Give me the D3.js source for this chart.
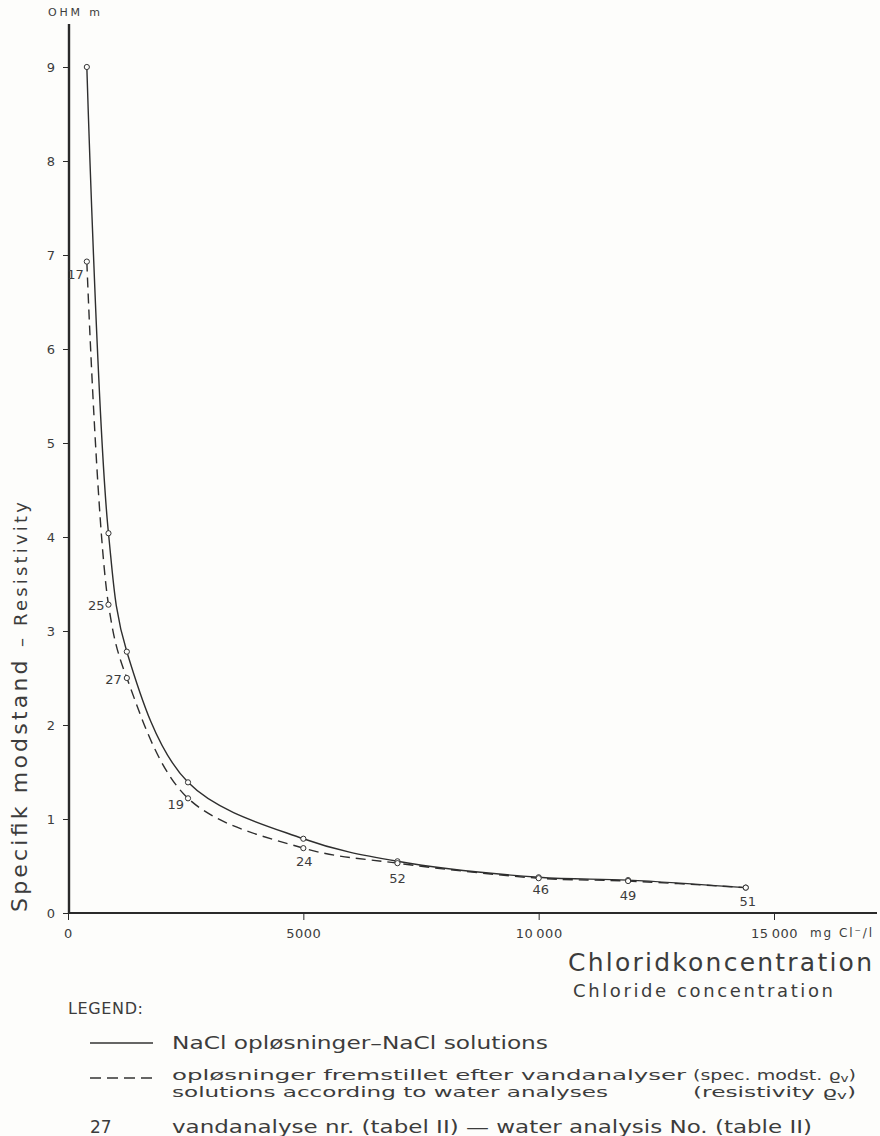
<!DOCTYPE html>
<html>
<head>
<meta charset="utf-8">
<script src="https://cdn.jsdelivr.net/npm/d3@7"></script>
<style>
  html, body { margin: 0; padding: 0; background: #fdfdfb; }
  svg { display: block; }
  text { font-family: "DejaVu Sans", sans-serif; fill: #3c3c3c; }
</style>
</head>
<body>
<svg id="chart" width="880" height="1136"></svg>
<script>
// Chloride concentration (mg Cl-/l) of the prepared solutions
const concentrations = [400, 860, 1250, 2550, 5000, 7000, 10000, 11900, 14400];
// Resistivity of pure NaCl solutions (ohm m)
const naclResistivity = [9.0, 4.04, 2.78, 1.39, 0.79, 0.55, 0.38, 0.35, 0.27];
// Resistivity of solutions made up after the water analyses (ohm m)
const waterResistivity = [6.93, 3.28, 2.50, 1.22, 0.69, 0.53, 0.37, 0.34, 0.27];
// Water analysis number (table II) for each concentration
const analysisNo = ["17", "25", "27", "19", "24", "52", "46", "49", "51"];

const xTicks = [0, 5000, 10000, 15000];
const xTickLabels = ["0", "5000", "10\u2009000", "15\u2009000"];
const yTicks = [0, 1, 2, 3, 4, 5, 6, 7, 8, 9];

const svg = d3.select("#chart");

const x = d3.scaleLinear().domain([0, 15000]).range([68, 774]);
const y = d3.scaleLinear().domain([0, 9]).range([913, 67]);

const axisColor = "#2a2a2a";

// --- axes -------------------------------------------------------------
const xAxis = d3.axisBottom(x)
  .tickValues(xTicks)
  .tickFormat((d, i) => xTickLabels[i])
  .tickSize(7)
  .tickPadding(9);

const gx = svg.append("g")
  .attr("transform", `translate(0,${y(0)})`)
  .call(xAxis);
gx.select(".domain").remove();
gx.selectAll(".tick line").attr("stroke", axisColor).attr("stroke-width", 1);
gx.selectAll(".tick text")
  .style("font-family", "DejaVu Sans, sans-serif")
  .style("font-size", "13px")
  .attr("fill", "#444")
  .attr("letter-spacing", "0.5px");

const yAxis = d3.axisLeft(y)
  .tickValues(yTicks)
  .tickFormat(d3.format("d"))
  .tickSize(6)
  .tickPadding(8);

const gy = svg.append("g")
  .attr("transform", `translate(${x(0) + 1},0)`)
  .call(yAxis);
gy.select(".domain").remove();
gy.selectAll(".tick line").attr("stroke", axisColor).attr("stroke-width", 1);
gy.selectAll(".tick text")
  .style("font-family", "DejaVu Sans, sans-serif")
  .style("font-size", "13px")
  .attr("fill", "#444");

// main axis lines (x axis runs past the last tick)
svg.append("line")
  .attr("x1", x(0)).attr("x2", 877)
  .attr("y1", y(0)).attr("y2", y(0))
  .attr("stroke", axisColor).attr("stroke-width", 2.2);
svg.append("line")
  .attr("x1", x(0) + 1).attr("x2", x(0) + 1)
  .attr("y1", y(0) + 1).attr("y2", 24)
  .attr("stroke", axisColor).attr("stroke-width", 2.4);

// unit labels
svg.append("text")
  .attr("x", 48).attr("y", 16)
  .attr("textLength", 52).attr("lengthAdjust", "spacing")
  .style("font-size", "11px")
  .attr("fill", "#555")
  .text("OHM m");

svg.append("text")
  .attr("x", 810).attr("y", y(0) + 24)
  .attr("textLength", 62).attr("lengthAdjust", "spacing")
  .style("font-size", "12px")
  .attr("fill", "#444")
  .text("mg Cl\u207B/l");

// axis titles
const yTitle = svg.append("text")
  .attr("transform", "translate(27,912) rotate(-90)")
  .attr("x", 0).attr("y", 0)
  .attr("textLength", 410).attr("lengthAdjust", "spacing");
yTitle.append("tspan").style("font-size", "22px").text("Specifik modstand ");
yTitle.append("tspan").style("font-size", "18px").text("\u2013 Resistivity");

svg.append("text")
  .attr("x", 568).attr("y", 971)
  .attr("textLength", 304).attr("lengthAdjust", "spacing")
  .style("font-size", "25px")
  .attr("fill", "#333")
  .text("Chloridkoncentration");

svg.append("text")
  .attr("x", 573).attr("y", 997)
  .attr("textLength", 260).attr("lengthAdjust", "spacing")
  .style("font-size", "18px")
  .attr("fill", "#444")
  .text("Chloride concentration");

// --- curves -----------------------------------------------------------
const naclData = concentrations.map((c, i) => ({ c, r: naclResistivity[i] }));
const waterData = concentrations.map((c, i) => ({ c, r: waterResistivity[i], no: analysisNo[i] }));

const line = d3.line()
  .x(d => x(d.c))
  .y(d => y(d.r))
  .curve(d3.curveCatmullRom.alpha(0.5));

svg.append("path")
  .datum(naclData)
  .attr("d", line)
  .attr("fill", "none")
  .attr("stroke", "#2e2e2e")
  .attr("stroke-width", 1.4);

svg.append("path")
  .datum(waterData)
  .attr("d", line)
  .attr("fill", "none")
  .attr("stroke", "#2e2e2e")
  .attr("stroke-width", 1.4)
  .attr("stroke-dasharray", "10,6");

// measured points
[naclData, waterData].forEach(series => {
  svg.append("g")
    .selectAll("circle")
    .data(series)
    .join("circle")
    .attr("cx", d => x(d.c))
    .attr("cy", d => y(d.r))
    .attr("r", 2.6)
    .attr("fill", "#fdfdfb")
    .attr("stroke", "#333")
    .attr("stroke-width", 1);
});

// analysis number placement beside each dashed-curve point
const labelPlacement = {
  "17": { dx: -3, dy: 17, anchor: "end" },
  "25": { dx: -4, dy: 5, anchor: "end" },
  "27": { dx: -5, dy: 6, anchor: "end" },
  "19": { dx: -4, dy: 11, anchor: "end" },
  "24": { dx: 1, dy: 18, anchor: "middle" },
  "52": { dx: 0, dy: 20, anchor: "middle" },
  "46": { dx: 2, dy: 16, anchor: "middle" },
  "49": { dx: 0, dy: 19, anchor: "middle" },
  "51": { dx: 2, dy: 18, anchor: "middle" }
};

svg.append("g")
  .selectAll("text")
  .data(waterData)
  .join("text")
  .attr("x", d => x(d.c) + labelPlacement[d.no].dx)
  .attr("y", d => y(d.r) + labelPlacement[d.no].dy)
  .attr("text-anchor", d => labelPlacement[d.no].anchor)
  .style("font-size", "13px")
  .attr("fill", "#444")
  .text(d => d.no);

// --- legend -----------------------------------------------------------
svg.append("text")
  .attr("x", 68).attr("y", 1014)
  .attr("textLength", 75).attr("lengthAdjust", "spacing")
  .style("font-size", "16px")
  .attr("fill", "#444")
  .text("LEGEND:");

svg.append("line")
  .attr("x1", 90).attr("x2", 153).attr("y1", 1043).attr("y2", 1043)
  .attr("stroke", "#333").attr("stroke-width", 1.4);
svg.append("text")
  .attr("x", 172).attr("y", 1049)
  .attr("textLength", 376).attr("lengthAdjust", "spacingAndGlyphs")
  .style("font-size", "17px")
  .text("NaCl opløsninger\u2013NaCl solutions");

svg.append("line")
  .attr("x1", 90).attr("x2", 153).attr("y1", 1078).attr("y2", 1078)
  .attr("stroke", "#333").attr("stroke-width", 1.4)
  .attr("stroke-dasharray", "11,6");

svg.append("text")
  .attr("x", 172).attr("y", 1080)
  .attr("textLength", 514).attr("lengthAdjust", "spacingAndGlyphs")
  .style("font-size", "14px")
  .text("opløsninger fremstillet efter vandanalyser");
svg.append("text")
  .attr("x", 172).attr("y", 1097)
  .attr("textLength", 436).attr("lengthAdjust", "spacingAndGlyphs")
  .style("font-size", "14px")
  .text("solutions according to water analyses");

function rhoNote(txt, yPos) {
  const t = svg.append("text")
    .attr("x", 693).attr("y", yPos)
    .attr("textLength", 163).attr("lengthAdjust", "spacingAndGlyphs")
    .style("font-size", "14px");
  t.append("tspan").text(txt);
  t.append("tspan").text("\u03F1");
  t.append("tspan").attr("dy", 2).style("font-size", "10px").text("v");
  t.append("tspan").attr("dy", -2).text(")");
}
rhoNote("(spec. modst. ", 1080);
rhoNote("(resistivity  ", 1097);

svg.append("text")
  .attr("x", 90).attr("y", 1133)
  .style("font-size", "17px")
  .text("27");
svg.append("text")
  .attr("x", 172).attr("y", 1133)
  .attr("textLength", 640).attr("lengthAdjust", "spacingAndGlyphs")
  .style("font-size", "17px")
  .text("vandanalyse nr. (tabel II) \u2014 water analysis No. (table II)");
</script>
</body>
</html>
